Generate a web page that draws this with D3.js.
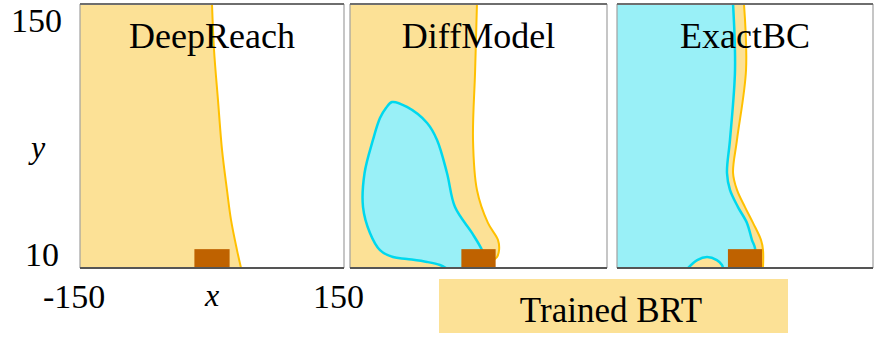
<!DOCTYPE html>
<html>
<head>
<meta charset="utf-8">
<script src="https://cdn.jsdelivr.net/npm/d3@7"></script>
<style>
  html, body { margin: 0; padding: 0; background: #fff; }
  svg { display: block; }
</style>
</head>
<body>
<svg id="chart" width="875" height="341"></svg>
<script>
// ---------------- data ----------------
const titles = ["DeepReach", "DiffModel", "ExactBC"];
const xDomain = [-150, 150];
const yDomain = [10, 150];
const xTickLabels = ["-150", "150"];
const yTickLabels = ["10", "150"];
const xAxisLabel = "x";
const yAxisLabel = "y";
const legendLabel = "Trained BRT";

// target set (brown square), data units
const targetX = [-20, 20];
const targetY = [10, 20];

// DeepReach: learned BRT boundary (orange), region to the left is the BRT
const deepReachBRT = [[0,150],[2.3,125.6],[6.8,99],[11.4,72.6],[17,51.4],[21.6,35.5],[28.4,19.5],[33,10]];

// DiffModel: BRT boundary (orange) and inner BRS blob (cyan)
const diffModelBRT = [[-1.8,150],[-4,114],[-6.4,77.9],[-1.8,51.4],[11,33.9],[22.8,24.8],[24,19.5],[21.6,15.8],[18,14.2],[17,10]];
const diffModelBRS = [[-38,10],[-45,11.6],[-60,13.2],[-83.5,14.8],[-99.8,15.8],[-115,19.5],[-126.7,28.6],[-134.8,42.3],[-133,60.4],[-123.2,77.9],[-115,89.5],[-108,94.8],[-101,98],[-83.5,95.4],[-60,86.9],[-48.4,77.9],[-36.8,60.4],[-27.4,42.3],[-7.6,28.6],[4.1,19.5],[8,14],[8,10]];

// ExactBC: BRT boundary (orange), BRS boundary (cyan), small excluded bump near the ground
const exactBRT = [[-1.2,150],[1.2,115],[-9.4,77.9],[-14,60.4],[-9.4,51.4],[0,42.3],[9.4,33.9],[18.8,24.8],[21.1,19.5],[21.1,10]];
const exactBRS = [[-14,150],[-11.7,115],[-17.6,77.9],[-21.1,60.4],[-17.6,51.4],[-8.2,42.3],[2.3,33.9],[8.2,24.8],[11.7,20.6],[12,10]];
const exactHole = [[-66.8,10],[-56,14.2],[-44.5,15.8],[-33,14.2],[-27,11.6],[-25.8,10]];

// ---------------- layout / style ----------------
const panels = [
  { x0: 80,  x1: 344, brt: deepReachBRT, brs: null,        hole: null },
  { x0: 350, x1: 607, brt: diffModelBRT, brs: diffModelBRS, hole: null },
  { x0: 617, x1: 873, brt: exactBRT,     brs: exactBRS,     hole: exactHole }
];
const plotTop = 4, plotBottom = 268;
const FONT = "'Liberation Serif', 'Times New Roman', Times, 'DejaVu Serif', serif";
const C = {
  brtFill: "#fce196", brtLine: "#ffc000",
  brsFill: "#99f0f7", brsLine: "#00d8ee",
  target: "#bf6200", frameSide: "#a0a0a0", frameTB: "#6e6e6e"
};

const svg = d3.select("#chart");
const y = d3.scaleLinear().domain(yDomain).range([plotBottom, plotTop]);
const curve = d3.curveCatmullRom.alpha(0.5);

function label(xp, yp, txt, size, anchor, italic) {
  return svg.append("text").attr("x", xp).attr("y", yp)
    .attr("font-family", FONT).attr("font-size", size)
    .attr("text-anchor", anchor).attr("fill", "#000")
    .attr("font-style", italic ? "italic" : "normal").text(txt);
}

panels.forEach((p, i) => {
  const x = d3.scaleLinear().domain(xDomain).range([p.x0, p.x1]);
  const g = svg.append("g");
  const clipId = "clip" + i;
  svg.append("clipPath").attr("id", clipId)
    .append("rect").attr("x", p.x0).attr("y", plotTop).attr("width", p.x1 - p.x0).attr("height", plotBottom - plotTop);
  const inner = g.append("g").attr("clip-path", `url(#${clipId})`);

  inner.append("rect").attr("x", p.x0).attr("y", plotTop).attr("width", p.x1 - p.x0).attr("height", plotBottom - plotTop).attr("fill", "#fff");

  const line = d3.line().x(d => x(d[0])).y(d => y(d[1])).curve(curve);

  const leftRegion = pts =>
    line(pts) + `L${x(xDomain[0]) - 5},${y(yDomain[0]) + 5}L${x(xDomain[0]) - 5},${y(yDomain[1]) - 5}Z`;

  inner.append("path").attr("d", leftRegion(p.brt)).attr("fill", C.brtFill);

  if (p.brs) {
    if (i === 1) {
      inner.append("path").attr("d", line(p.brs) + "Z").attr("fill", C.brsFill);
    } else {
      inner.append("path").attr("d", leftRegion(p.brs)).attr("fill", C.brsFill);
    }
  }
  if (p.hole) {
    inner.append("path").attr("d", line(p.hole) + "Z").attr("fill", C.brtFill);
  }

  inner.append("path").attr("d", line(p.brt)).attr("fill", "none").attr("stroke", C.brtLine).attr("stroke-width", 2);
  if (p.brs) {
    inner.append("path").attr("d", line(p.brs)).attr("fill", "none").attr("stroke", C.brsLine).attr("stroke-width", 2.5);
  }
  if (p.hole) {
    inner.append("path").attr("d", line(p.hole)).attr("fill", "none").attr("stroke", C.brsLine).attr("stroke-width", 2.5);
  }

  inner.append("rect")
    .attr("x", x(targetX[0])).attr("y", y(targetY[1]))
    .attr("width", x(targetX[1]) - x(targetX[0])).attr("height", y(targetY[0]) - y(targetY[1]))
    .attr("fill", C.target);

  g.append("line").attr("x1", p.x0).attr("x2", p.x0).attr("y1", plotTop).attr("y2", plotBottom).attr("stroke", C.frameSide).attr("stroke-width", 1.2);
  g.append("line").attr("x1", p.x1).attr("x2", p.x1).attr("y1", plotTop).attr("y2", plotBottom).attr("stroke", C.frameSide).attr("stroke-width", 1.2);
  g.append("line").attr("x1", p.x0).attr("x2", p.x1).attr("y1", plotTop).attr("y2", plotTop).attr("stroke", C.frameTB).attr("stroke-width", 1.8);
  g.append("line").attr("x1", p.x0).attr("x2", p.x1).attr("y1", plotBottom).attr("y2", plotBottom).attr("stroke", "#555").attr("stroke-width", 2);
});

panels.forEach((p, i) => label((p.x0 + p.x1) / 2, 48, titles[i], 36, "middle", false));

const x0 = d3.scaleLinear().domain(xDomain).range([panels[0].x0, panels[0].x1]);
label(62, y(yDomain[1]) + 28, yTickLabels[1], 34, "end", false);
label(59, y(yDomain[0]) - 2, yTickLabels[0], 34, "end", false);
label(x0(xDomain[0]) - 37, 308, xTickLabels[0], 34, "start", false);
label(x0(xDomain[1]) - 31, 308, xTickLabels[1], 34, "start", false);
label(x0(0), 306, xAxisLabel, 32, "middle", true);
label(38, 158, yAxisLabel, 32, "middle", true);

svg.append("rect").attr("x", 439).attr("y", 279).attr("width", 349).attr("height", 54).attr("fill", C.brtFill);
label(611, 322, legendLabel, 35, "middle", false);
</script>
</body>
</html>
